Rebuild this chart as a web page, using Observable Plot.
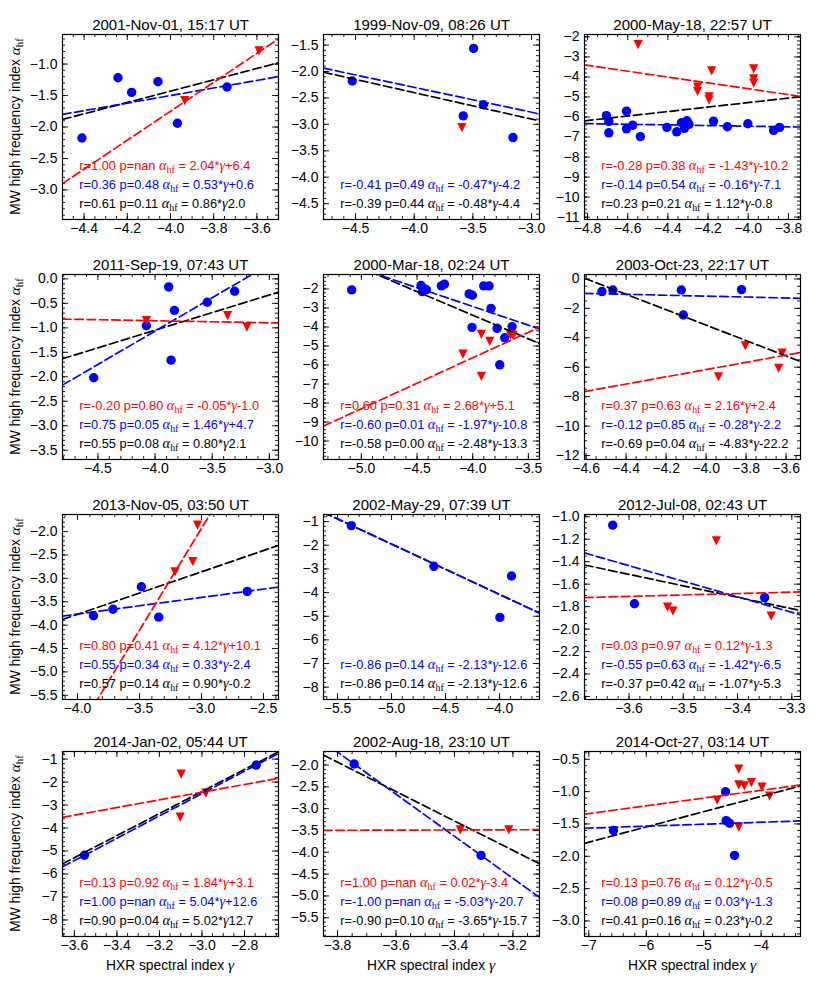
<!DOCTYPE html>
<html><head><meta charset="utf-8">
<script src="https://cdn.jsdelivr.net/npm/d3@7"></script>
<script src="https://cdn.jsdelivr.net/npm/@observablehq/plot@0.6"></script>
<style>
body{margin:0;background:#fff;}
#fig{position:relative;width:830px;height:997px;font-family:"Liberation Sans",Arial,Helvetica,sans-serif;}
#fig svg{position:absolute;}
</style></head><body><div id="fig"></div>
<script>
const titles = ["2001-Nov-01, 15:17 UT","1999-Nov-09, 08:26 UT","2000-May-18, 22:57 UT","2011-Sep-19, 07:43 UT","2000-Mar-18, 02:24 UT","2003-Oct-23, 22:17 UT","2013-Nov-05, 03:50 UT","2002-May-29, 07:39 UT","2012-Jul-08, 02:43 UT","2014-Jan-02, 05:44 UT","2002-Aug-18, 23:10 UT","2014-Oct-27, 03:14 UT"];

const blueGamma = [
 [-4.41,-4.243,-4.18,-4.058,-3.968,-3.738],
 [-4.528,-3.494,-3.582,-3.41,-3.158],
 [-4.706,-4.694,-4.694,-4.606,-4.606,-4.575,-4.537,-4.405,-4.356,-4.333,-4.318,-4.305,-4.295,-4.173,-4.104,-4.002,-3.874,-3.844],
 [-4.537,-4.076,-3.881,-3.831,-3.86,-3.543,-3.304],
 [-5.087,-4.464,-4.452,-4.431,-4.416,-4.281,-4.254,-4.032,-4.003,-3.901,-3.853,-3.835,-4.006,-3.781,-3.712,-3.646,-3.757],
 [-4.521,-4.466,-4.124,-4.114,-3.823],
 [-3.871,-3.714,-3.485,-3.345,-2.631],
 [-5.373,-4.608,-3.997,-3.889],
 [-3.63,-3.59,-3.35],
 [-3.553,-2.745],
 [-3.743,-3.309],
 [-6.571,-4.62,-4.608,-4.55,-4.463]
];
const blueAlpha = [
 [-2.175,-1.217,-1.45,-1.28,-1.94,-1.365],
 [-2.18,-1.563,-2.84,-2.63,-3.25],
 [-5.93,-6.22,-6.79,-5.71,-6.59,-6.41,-6.98,-6.52,-6.74,-6.29,-6.57,-6.19,-6.37,-6.21,-6.49,-6.34,-6.67,-6.52],
 [-2.02,-0.957,-0.164,-0.643,-1.66,-0.478,-0.253],
 [-2.05,-1.82,-2.14,-2.0,-2.04,-1.84,-1.75,-2.26,-2.33,-1.84,-1.84,-3.02,-4.02,-4.07,-4.57,-3.98,-5.99],
 [-0.86,-0.75,-0.75,-2.45,-0.73],
 [-3.80,-3.66,-3.18,-3.83,-3.28],
 [-1.17,-2.89,-5.05,-3.30],
 [-1.075,-1.775,-1.72],
 [-5.185,-1.26],
 [-1.977,-4.07],
 [-1.601,-1.002,-1.448,-1.49,-1.986]
];
const redGamma = [
 [-3.934,-3.59],
 [-3.593],
 [-4.548,-4.252,-4.252,-4.182,-4.195,-4.195,-3.973,-3.973,-3.973],
 [-4.076,-3.365,-3.196],
 [-4.087,-3.922,-3.847,-3.922,-3.661,-3.637],
 [-3.938,-3.804,-3.637,-3.62],
 [-3.213,-3.07,-3.032],
 [],
 [-3.529,-3.519,-3.439,-3.338],
 [-3.098,-3.102,-2.982],
 [-3.38,-3.214],
 [-4.765,-4.39,-4.39,-4.292,-4.17,-3.986,-3.852,-4.39]
];
const redAlpha = [
 [-1.58,-0.79],
 [-3.06],
 [-2.38,-4.51,-4.72,-3.70,-5.0,-5.14,-3.60,-4.10,-4.31],
 [-0.854,-0.752,-0.984],
 [-5.43,-4.39,-4.76,-6.60,-4.43,-4.43],
 [-6.66,-4.55,-6.07,-5.05],
 [-2.86,-2.64,-1.86],
 [],
 [-1.805,-1.84,-1.215,-1.885],
 [-1.65,-3.525,-2.486],
 [-3.484,-3.484],
 [-1.13,-0.654,-0.895,-0.91,-0.86,-0.93,-1.07,-1.55]
];
// fitted lines [slope, intercept] as drawn
const redFit = [[2.3,7.45],null,[-1.46,-10.43],[-0.042,-1.023],[2.68,5.1],[2.46,3.68],[4.36,11.15],null,[0.127,-1.252],[1.67,2.57],[0.02,-3.42],[0.12,-0.5]];
const blueFit = [[0.6,0.9],[-0.47,-4.18],[-0.16,-7.1],[1.363,4.386],[-1.97,-10.8],[-0.31,-2.41],[0.356,-2.34],[-2.13,-12.6],[-1.384,-6.418],[4.86,12.08],[-4.82,-20.02],[0.03,-1.354]];
const blackFit = [[0.9,2.17],[-0.5,-4.4],[1.12,-0.8],[0.72,1.832],[-2.48,-13.3],[-5.24,-24.1],[0.91,-0.13],[-2.13,-12.6],[-1.02,-5.185],[4.8,11.99],[-3.37,-14.74],[0.236,-0.13]];

const redText = ["r=1.00 p=nan α_hf = 2.04*γ+6.4", null, "r=-0.28 p=0.38 α_hf = -1.43*γ-10.2", "r=-0.20 p=0.80 α_hf = -0.05*γ-1.0", "r=0.60 p=0.31 α_hf = 2.68*γ+5.1", "r=0.37 p=0.63 α_hf = 2.16*γ+2.4", "r=0.80 p=0.41 α_hf = 4.12*γ+10.1", null, "r=0.03 p=0.97 α_hf = 0.12*γ-1.3", "r=0.13 p=0.92 α_hf = 1.84*γ+3.1", "r=1.00 p=nan α_hf = 0.02*γ-3.4", "r=0.13 p=0.76 α_hf = 0.12*γ-0.5"];
const blueText = ["r=0.36 p=0.48 α_hf = 0.53*γ+0.6", "r=-0.41 p=0.49 α_hf = -0.47*γ-4.2", "r=-0.14 p=0.54 α_hf = -0.16*γ-7.1", "r=0.75 p=0.05 α_hf = 1.46*γ+4.7", "r=-0.60 p=0.01 α_hf = -1.97*γ-10.8", "r=-0.12 p=0.85 α_hf = -0.28*γ-2.2", "r=0.55 p=0.34 α_hf = 0.33*γ-2.4", "r=-0.86 p=0.14 α_hf = -2.13*γ-12.6", "r=-0.55 p=0.63 α_hf = -1.42*γ-6.5", "r=1.00 p=nan α_hf = 5.04*γ+12.6", "r=-1.00 p=nan α_hf = -5.03*γ-20.7", "r=0.08 p=0.89 α_hf = 0.03*γ-1.3"];
const blackText = ["r=0.61 p=0.11 α_hf = 0.86*γ2.0", "r=-0.39 p=0.44 α_hf = -0.48*γ-4.4", "r=0.23 p=0.21 α_hf = 1.12*γ-0.8", "r=0.55 p=0.08 α_hf = 0.80*γ2.1", "r=-0.58 p=0.00 α_hf = -2.48*γ-13.3", "r=-0.69 p=0.04 α_hf = -4.83*γ-22.2", "r=0.57 p=0.14 α_hf = 0.90*γ-0.2", "r=-0.86 p=0.14 α_hf = -2.13*γ-12.6", "r=-0.37 p=0.42 α_hf = -1.07*γ-5.3", "r=0.90 p=0.04 α_hf = 5.02*γ12.7", "r=-0.90 p=0.10 α_hf = -3.65*γ-15.7", "r=0.41 p=0.16 α_hf = 0.23*γ-0.2"];

const xDomains = [[-4.5,-3.5],[-4.773,-2.932],[-4.815,-3.74],[-4.81,-2.92],[-5.34,-3.40],[-4.608,-3.528],[-4.121,-2.379],[-5.63,-3.63],[-3.682,-3.284],[-3.656,-2.64],[-3.848,-3.109],[-7.075,-3.315]];
const yDomains = [[-3.47,-0.53],[-4.80,-1.30],[-11.12,-1.88],[-3.69,0.09],[-10.97,-1.24],[-12.27,0.3],[-5.59,-1.635],[-8.52,-0.70],[-2.627,-0.98],[-8.72,-0.67],[-5.93,-1.69],[-3.24,-0.38]];
const xTickStep = [0.2,0.5,0.2,0.5,0.5,0.2,0.5,0.5,0.1,0.2,0.2,1];
const yTickStep = [0.5,0.5,1,0.5,1,2,0.5,1,0.2,1,0.5,0.5];
const xDecimals = [1,1,1,1,1,1,1,1,1,1,1,0];
const yDecimals = [1,1,0,1,0,0,1,0,1,0,1,1];

const yAxisLabel = "MW high frequency index α_hf";
const xAxisLabel = "HXR spectral index γ";

// ---------- layout ----------
const FL = [62, 323, 584], FT = [34, 274, 514, 751], FW = 216, FH = 185;
const ML = 50, MR = 8, MT = 34, MB = 30;
const SANS = "'Liberation Sans', Arial, Helvetica, sans-serif";
const SERIF = "'Liberation Serif', 'DejaVu Serif', serif";
const NS = "http://www.w3.org/2000/svg";
const DASH = "8.5,3.8";
const TICK_FS = 14, TITLE_FS = 15, ANN_FS = 12.8, LABEL_FS = 13.8;
const fig = document.getElementById("fig");

function tickRange(lo, hi, step) {
  const a = Math.min(lo, hi), b = Math.max(lo, hi), out = [];
  for (let k = Math.ceil(a / step - 1e-7); k * step <= b + 1e-7; k++) out.push(+(k * step).toFixed(6));
  return out;
}
function nDiv(step) {
  const m = step / Math.pow(10, Math.floor(Math.log10(step) + 1e-9));
  return [1, 2.5, 5, 10].some(v => Math.abs(v - m) < 1e-6) ? 5 : 4;
}
function richify(el, fs) {
  const str = el.textContent;
  if (!/α_hf|γ/.test(str)) return;
  while (el.firstChild) el.removeChild(el.firstChild);
  el.setAttribute("style", (el.getAttribute("style") || "") + ";white-space:pre");
  const sub = fs * 0.24;
  let pending = 0;
  const add = (txt, attrs) => {
    const t = document.createElementNS(NS, "tspan");
    t.textContent = txt;
    for (const k in attrs) t.setAttribute(k, attrs[k]);
    if (pending) { t.setAttribute("dy", (+(t.getAttribute("dy") || 0)) + pending); pending = 0; }
    el.appendChild(t);
  };
  for (const p of str.split(/(α_hf|γ)/)) {
    if (!p) continue;
    if (p === "α_hf") {
      add("α", {"font-family": SERIF, "font-style": "italic", "font-size": fs * 1.12});
      add("hf", {"font-family": SERIF, "font-size": fs * 0.78, dy: sub});
      pending = -sub;
    } else if (p === "γ") {
      add("γ", {"font-family": SERIF, "font-style": "italic", "font-size": fs * 1.12});
    } else add(p, {});
  }
}
const triDown = {
  draw(ctx, size) {
    const h = Math.sqrt(size / Math.PI) * 1.05;
    ctx.moveTo(-h, -h); ctx.lineTo(h, -h); ctx.lineTo(0, h); ctx.closePath();
  }
};

for (let i = 0; i < 12; i++) {
  const col = i % 3, row = Math.floor(i / 3);
  const [x0, x1] = xDomains[i], [y0, y1] = yDomains[i];
  const xs = xTickStep[i], ys = yTickStep[i];
  const xMaj = tickRange(x0, x1, xs), yMaj = tickRange(y0, y1, ys);
  const xMin = tickRange(x0, x1, xs / nDiv(xs)), yMin = tickRange(y0, y1, ys / nDiv(ys));
  const dyU = px => (y1 - y0) * px / FH, dxU = px => (x1 - x0) * px / FW;
  const tickStyle = {stroke: "black", strokeWidth: 0.9};
  const ticks = (xv, yv, len) => [
    Plot.ruleX(xv, {x: d => d, y1: () => y0, y2: () => y0 + dyU(len), ...tickStyle}),
    Plot.ruleX(xv, {x: d => d, y1: () => y1, y2: () => y1 - dyU(len), ...tickStyle}),
    Plot.ruleY(yv, {y: d => d, x1: () => x0, x2: () => x0 + dxU(len), ...tickStyle}),
    Plot.ruleY(yv, {y: d => d, x1: () => x1, x2: () => x1 - dxU(len), ...tickStyle})
  ];
  const line = (fit, color) => fit ? Plot.line([x0, x1], {x: d => d, y: d => fit[0] * d + fit[1], stroke: color, strokeWidth: 1.7, strokeDasharray: DASH, clip: true}) : null;
  const ann = (txt, color, frac) => txt ? Plot.text([txt], {x: () => x0 + 0.078 * (x1 - x0), y: () => y0 + frac * (y1 - y0), text: d => d, fill: color, textAnchor: "start", lineAnchor: "middle", fontSize: ANN_FS}) : null;
  const blue = d3.zip(blueGamma[i], blueAlpha[i]);
  const red = d3.zip(redGamma[i], redAlpha[i]);
  const marks = [
    ...ticks(xMin, yMin, 3),
    ...ticks(xMaj, yMaj, 6),
    Plot.dot(blue, {x: d => d[0], y: d => d[1], fill: "#0000ff", r: 4.7}),
    Plot.dot(red, {x: d => d[0], y: d => d[1], fill: "#ff0000", r: 4.4, symbol: triDown}),
    line(blackFit[i], "black"),
    line(blueFit[i], "#0000ff"),
    line(redFit[i], "#ff0000"),
    ann(redText[i], "#ff0000", 0.292),
    ann(blueText[i], "#0000ff", 0.189),
    ann(blackText[i], "black", 0.086),
    Plot.text([titles[i]], {frameAnchor: "top", lineAnchor: "middle", text: d => d, dy: -9, fontSize: TITLE_FS, fill: "black"}),
    Plot.frame({stroke: "black", strokeWidth: 1.2})
  ].filter(Boolean);
  const svg = Plot.plot({
    width: FW + ML + MR, height: FH + MT + MB,
    marginLeft: ML, marginRight: MR, marginTop: MT, marginBottom: MB,
    x: {domain: [x0, x1], ticks: xMaj, tickSize: 0, tickPadding: 4, tickFormat: d3.format(`.${xDecimals[i]}f`), label: null},
    y: {domain: [y0, y1], ticks: yMaj, tickSize: 0, tickPadding: 5, tickFormat: d3.format(`.${yDecimals[i]}f`), label: null},
    style: {fontFamily: SANS, fontSize: TICK_FS + "px", background: "transparent", overflow: "visible", color: "black"},
    marks
  });
  svg.style.left = (FL[col] - ML) + "px";
  svg.style.top = (FT[row] - MT) + "px";
  svg.style.maxWidth = "none";
  fig.appendChild(svg);
  svg.querySelectorAll("text").forEach(t => richify(t, ANN_FS));
}

// axis labels overlay
const ov = d3.select(fig).append("svg").attr("width", 830).attr("height", 997)
  .style("left", "0px").style("top", "0px").style("pointer-events", "none");
for (let r = 0; r < 4; r++) {
  const t = ov.append("text")
    .attr("transform", `translate(15,${FT[r] + FH / 2}) rotate(-90)`)
    .attr("text-anchor", "middle").attr("dy", "0.35em")
    .attr("font-family", SANS).attr("font-size", LABEL_FS).attr("fill", "black")
    .text(yAxisLabel);
  richify(t.node(), LABEL_FS);
}
for (let c = 0; c < 3; c++) {
  const t = ov.append("text")
    .attr("x", FL[c] + FW / 2).attr("y", 970)
    .attr("text-anchor", "middle")
    .attr("font-family", SANS).attr("font-size", LABEL_FS).attr("fill", "black")
    .text(xAxisLabel);
  richify(t.node(), LABEL_FS);
}
</script></body></html>
